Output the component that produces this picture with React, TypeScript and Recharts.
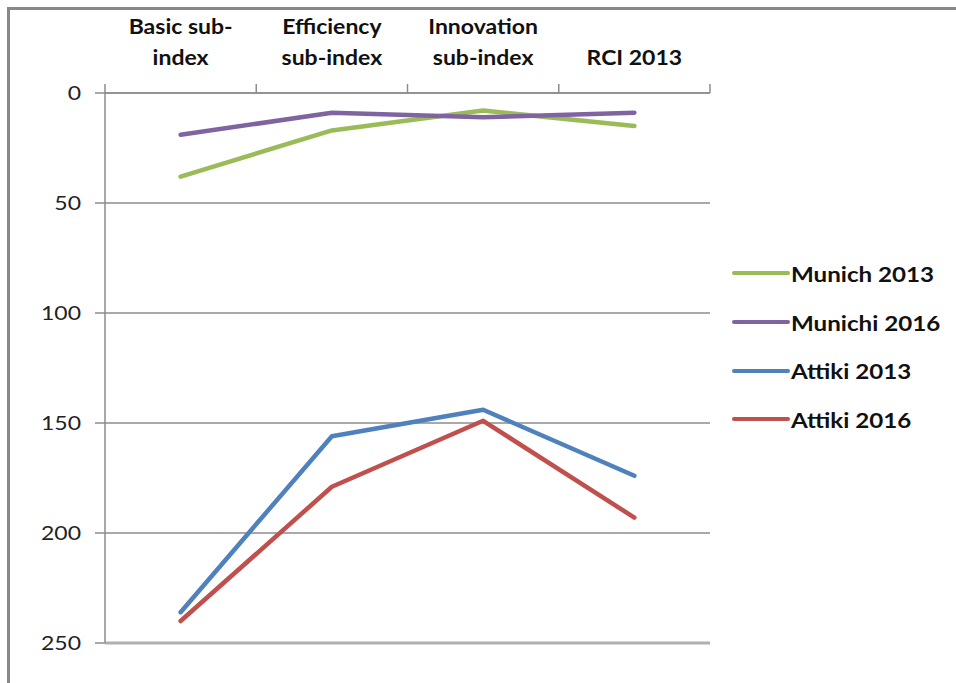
import { LineChart, Line, XAxis, YAxis, CartesianGrid, Legend, ReferenceLine } from "recharts";

const categories = ["Basic sub-index", "Efficiency sub-index", "Innovation sub-index", "RCI 2013"];
const categoryLines = [["Basic sub-", "index"], ["Efficiency", "sub-index"], ["Innovation", "sub-index"], ["RCI 2013"]];

const munich2013 = [38, 17, 8, 15];
const munich2016 = [19, 9, 11, 9];
const attiki2013 = [236, 156, 144, 174];
const attiki2016 = [240, 179, 149, 193];

const rankTicks = [0, 50, 100, 150, 200, 250];

const seriesList = [
  { key: "munich2013", name: "Munich 2013", color: "#9BBB59" },
  { key: "munich2016", name: "Munichi 2016", color: "#8064A2" },
  { key: "attiki2013", name: "Attiki 2013", color: "#4F81BD" },
  { key: "attiki2016", name: "Attiki 2016", color: "#C0504D" },
];

const data = categories.map((category, i) => ({
  category,
  munich2013: munich2013[i],
  munich2016: munich2016[i],
  attiki2013: attiki2013[i],
  attiki2016: attiki2016[i],
}));

const WIDTH = 956;
const HEIGHT = 683;
const PLOT_LEFT = 105;
const PLOT_RIGHT = 710;
const PLOT_TOP = 93;
const PLOT_BOTTOM = 643;
const BAND = (PLOT_RIGHT - PLOT_LEFT) / categories.length;

const FONT = "Lato, 'Open Sans', sans-serif";
const AXIS_GREY = "#8c8c8c";
// the labels are set a bit wider than Lato draws them
const STRETCH = 1.15;

function stretchAt(x: number, y: number) {
  return `translate(${x} ${y}) scale(${STRETCH} 1) translate(${-x} ${-y})`;
}

function CategoryTick({ x, y, payload }: { x: number; y: number; payload: { index: number } }) {
  const lines = categoryLines[payload.index] ?? [];
  const last = lines.length - 1;
  return (
    <g>
      {payload.index === 0 && (
        <line x1={x - BAND / 2} y1={y} x2={x - BAND / 2} y2={y - 9} stroke={AXIS_GREY} strokeWidth={1.5} />
      )}
      <line x1={x + BAND / 2} y1={y} x2={x + BAND / 2} y2={y - 9} stroke={AXIS_GREY} strokeWidth={1.5} />
      {lines.map((text, i) => {
        const ty = y - 28 - (last - i) * 31;
        return (
          <text
            key={i}
            x={x}
            y={ty}
            transform={stretchAt(x, ty)}
            textAnchor="middle"
            fontFamily={FONT}
            fontWeight={700}
            fontSize={20}
            fill="#111"
          >
            {text}
          </text>
        );
      })}
    </g>
  );
}

function RankTick({ x, y, payload }: { x: number; y: number; payload: { value: number } }) {
  return (
    <text
      x={x}
      y={y}
      dy={7}
      transform={stretchAt(x, y)}
      textAnchor="end"
      fontFamily={FONT}
      fontSize={20}
      fill="#222"
    >
      {payload.value}
    </text>
  );
}

function SeriesLegend() {
  return (
    <div style={{ fontFamily: FONT, fontWeight: 700, fontSize: 21, color: "#111" }}>
      {seriesList.map((s) => (
        <div key={s.key} style={{ display: "flex", alignItems: "center", height: 48.7 }}>
          <svg width={58} height={6} style={{ marginRight: 1 }}>
            <line x1={2} y1={3} x2={56} y2={3} stroke={s.color} strokeWidth={4} strokeLinecap="round" />
          </svg>
          <span style={{ display: "inline-block", transform: `scaleX(${STRETCH})`, transformOrigin: "left center" }}>
            {s.name}
          </span>
        </div>
      ))}
    </div>
  );
}

export default function App() {
  return (
    <div style={{ position: "absolute", left: 0, top: 0, width: WIDTH, height: HEIGHT, background: "#fff", overflow: "hidden" }}>
      <div
        style={{
          position: "absolute",
          left: 7,
          top: 7,
          width: WIDTH - 7,
          height: HEIGHT - 7,
          borderTop: "3px solid #888",
          borderLeft: "3px solid #888",
        }}
      />
      <div style={{ position: "absolute", left: 0, top: 0 }}>
        <LineChart
          width={WIDTH}
          height={HEIGHT}
          data={data}
          margin={{ top: 0, right: WIDTH - PLOT_RIGHT, bottom: HEIGHT - PLOT_BOTTOM, left: 0 }}
        >
          <CartesianGrid vertical={false} stroke={AXIS_GREY} strokeWidth={1.5} />
          <XAxis
            dataKey="category"
            orientation="top"
            scale="band"
            height={PLOT_TOP}
            tickLine={false}
            tickSize={0}
            tickMargin={0}
            axisLine={{ stroke: AXIS_GREY, strokeWidth: 1.5 }}
            tick={(props: any) => <CategoryTick {...props} />}
            interval={0}
          />
          <YAxis
            width={PLOT_LEFT}
            reversed
            domain={[0, 250]}
            ticks={rankTicks}
            interval={0}
            tickSize={10}
            tickMargin={14}
            tickLine={{ stroke: AXIS_GREY, strokeWidth: 1.5 }}
            axisLine={{ stroke: AXIS_GREY, strokeWidth: 1.5 }}
            tick={(props: any) => <RankTick {...props} />}
          />
          <ReferenceLine y={250} stroke="#b0b0b0" strokeWidth={3} />
          {seriesList.map((s) => (
            <Line
              key={s.key}
              dataKey={s.key}
              name={s.name}
              type="linear"
              stroke={s.color}
              strokeWidth={4.5}
              strokeLinecap="round"
              strokeLinejoin="round"
              dot={false}
              activeDot={false}
              isAnimationActive={false}
            />
          ))}
          <Legend
            layout="horizontal"
            verticalAlign="middle"
            align="center"
            content={() => <SeriesLegend />}
            wrapperStyle={{ left: 732, top: 249, width: 224, height: 200 }}
          />
        </LineChart>
      </div>
    </div>
  );
}
